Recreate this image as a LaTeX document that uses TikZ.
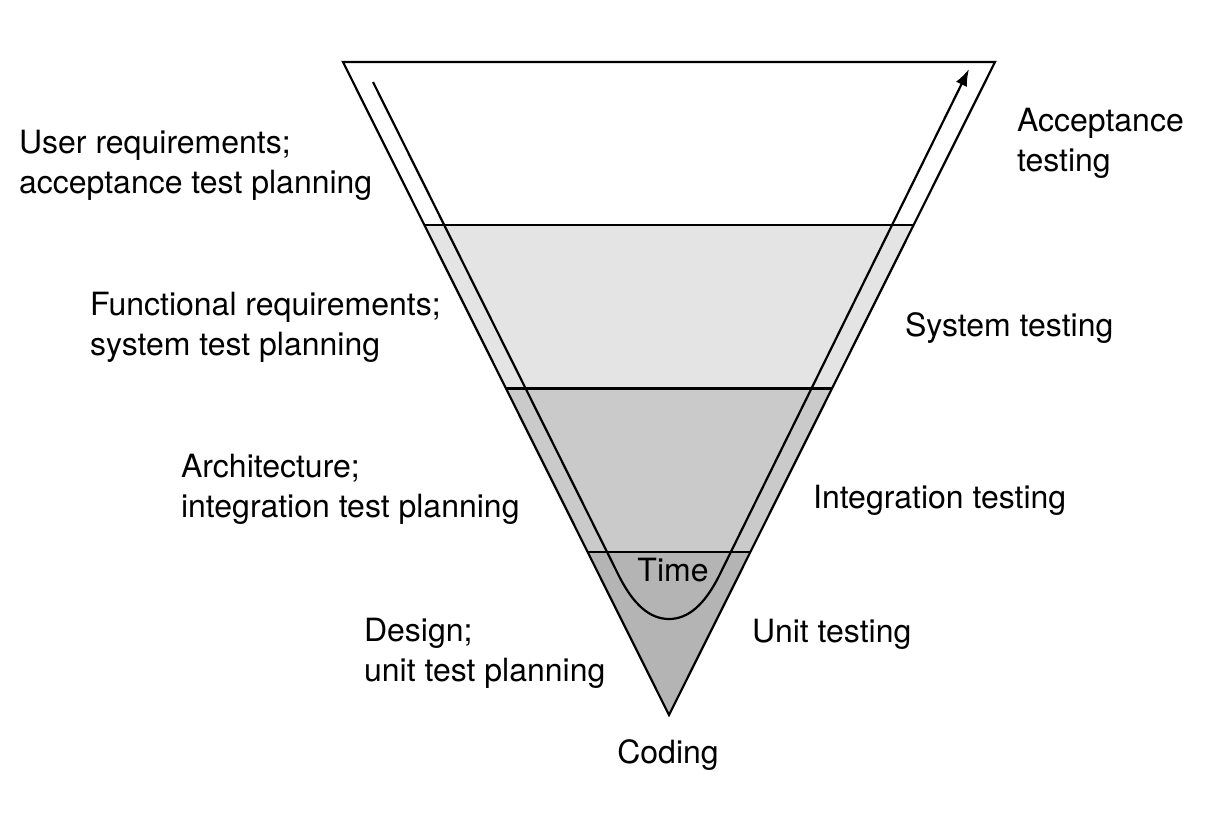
\documentclass[tikz,border=0pt]{standalone}
\usepackage{fontspec}
\setmainfont{TeX Gyre Heros}
\usetikzlibrary{calc,arrows.meta}
\definecolor{bandA}{HTML}{E4E4E4}
\definecolor{bandB}{HTML}{CACACA}
\definecolor{bandC}{HTML}{B4B4B4}
\begin{document}
\begin{tikzpicture}
    [x=0.5pt,y=-0.5pt,line width=1.1pt,
     every node/.style={inner sep=0pt,font=\fontsize{16}{20}\selectfont,align=left}]
    \useasboundingbox (0,0) rectangle (1228,820);
    \coordinate (tl) at (343,62);
    \coordinate (tr) at (995,62);
    \coordinate (ap) at (669,715);
    % shaded bands
    \foreach \a/\b/\c in {.25/.5/bandA,.5/.75/bandB,.75/1/bandC}
      \fill[\c] ($(tl)!\a!(ap)$) -- ($(tr)!\a!(ap)$) -- ($(tr)!\b!(ap)$) -- ($(tl)!\b!(ap)$) -- cycle;
    \foreach \a in {.25,.5,.75}
      \draw ($(tl)!\a!(ap)$) -- ($(tr)!\a!(ap)$);
    \draw[line join=miter] (tl) -- (tr) -- (ap) -- cycle;
    % time line
    \coordinate (tstart) at (373,82);
    \coordinate (tend) at (969,69);
    \draw[-{Latex[length=8.5pt,width=6pt]}] (tstart) -- (618.5,575)
      .. controls (633.4,605) and (650,619) .. (669,619)
      .. controls (688,619) and (704.6,605) .. (719.5,575) -- (tend);
    % labels
    \node[anchor=base west] (user) at (18,193) {User requirements;\\acceptance test planning};
    \node[anchor=base west] (func) at (89,355) {Functional requirements;\\system test planning};
    \node[anchor=base west] (arch) at (180,517) {Architecture;\\integration test planning};
    \node[anchor=base west] (design) at (363,681) {Design;\\unit test planning};
    \node[anchor=base] (coding) at (668,763) {Coding};
    \node[anchor=base west] (unit) at (751,642) {Unit testing};
    \node[anchor=base west] (integ) at (812,508) {Integration testing};
    \node[anchor=base west] (system) at (904,336) {System testing};
    \node[anchor=base west] (accept) at (1016,171) {Acceptance\\testing};
    \node[anchor=base] (time) at (673,581) {Time};
\end{tikzpicture}
\end{document}
